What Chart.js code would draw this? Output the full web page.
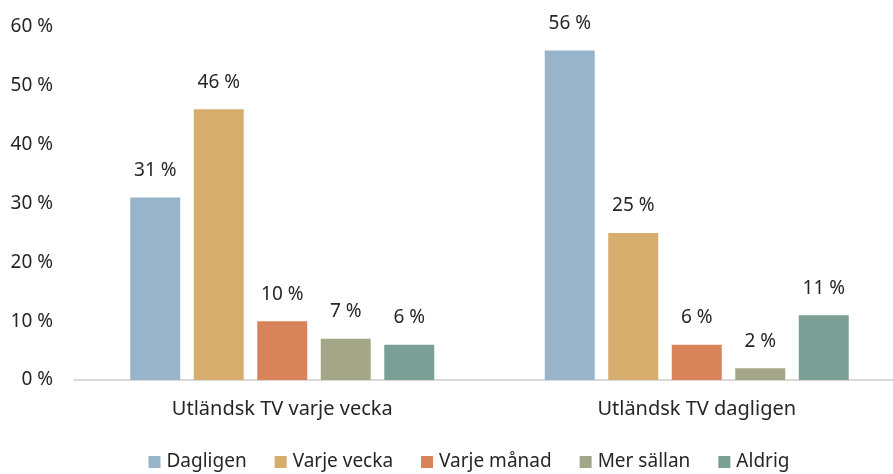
<!DOCTYPE html>
<html>
<head>
<meta charset="utf-8">
<script src="https://cdn.jsdelivr.net/npm/chart.js@4"></script>
<style>
  html, body { margin: 0; padding: 0; background: #fff; overflow: hidden; }
  #wrap { width: 904px; height: 474px; position: relative; }
</style>
</head>
<body>
<div id="wrap"><canvas id="c"></canvas></div>
<script>
const categories = ['Utländsk TV varje vecka', 'Utländsk TV dagligen'];
const seriesNames = ['Dagligen', 'Varje vecka', 'Varje månad', 'Mer sällan', 'Aldrig'];
const dagligen = [31, 56];
const varjeVecka = [46, 25];
const varjeManad = [10, 6];
const merSallan = [7, 2];
const aldrig = [6, 11];
const yTicks = [0, 10, 20, 30, 40, 50, 60];
const colors = ['#98B4CB', '#D6AD6D', '#D9835A', '#A4A787', '#7AA096'];

const FONT = '"Noto Sans", "Open Sans", sans-serif';
const TEXT = '#262626';

// value labels above each bar
const valueLabels = {
  id: 'valueLabels',
  afterDatasetsDraw(chart) {
    const ctx = chart.ctx;
    ctx.save();
    ctx.font = '19px ' + FONT;
    ctx.fillStyle = TEXT;
    ctx.textAlign = 'center';
    ctx.textBaseline = 'middle';
    chart.data.datasets.forEach((ds, i) => {
      chart.getDatasetMeta(i).data.forEach((bar, j) => {
        ctx.fillText(ds.data[j] + ' %', bar.x, bar.y - 27);
      });
    });
    ctx.restore();
  }
};

// legend row along the bottom: square swatch + series name
const bottomLegend = {
  id: 'bottomLegend',
  afterDraw(chart) {
    const ctx = chart.ctx;
    const box = 12, gapText = 6, gapItem = 28;
    ctx.save();
    ctx.font = '19px ' + FONT;
    ctx.textBaseline = 'middle';
    ctx.textAlign = 'left';
    const items = chart.data.datasets.map(ds => ({
      text: ds.label, color: ds.backgroundColor, w: ctx.measureText(ds.label).width
    }));
    const total = items.reduce((s, it) => s + box + gapText + it.w, 0) + gapItem * (items.length - 1);
    let x = 469 - total / 2;
    const y = chart.height - 12;
    items.forEach(it => {
      ctx.fillStyle = it.color;
      ctx.fillRect(x, y - box / 2, box, box);
      x += box + gapText;
      ctx.fillStyle = TEXT;
      ctx.fillText(it.text, x, y);
      x += it.w + gapItem;
    });
    ctx.restore();
  }
};

const seriesData = [dagligen, varjeVecka, varjeManad, merSallan, aldrig];

new Chart(document.getElementById('c'), {
  type: 'bar',
  data: {
    labels: categories,
    datasets: seriesNames.map((name, i) => ({
      label: name,
      data: seriesData[i],
      backgroundColor: colors[i],
      borderWidth: 0,
      categoryPercentage: 0.766,
      barPercentage: 0.787
    }))
  },
  options: {
    responsive: true,
    maintainAspectRatio: false,
    animation: false,
    layout: { padding: { top: 27, left: 8, right: 0, bottom: 51 } },
    plugins: {
      tooltip: { enabled: false },
      legend: { display: false }
    },
    scales: {
      x: {
        grid: { display: false, drawTicks: false },
        border: { display: true, color: '#D9D9D9', width: 2 },
        ticks: { font: { family: FONT, size: 20 }, color: TEXT, padding: 17 },
        afterFit(scale) {
          scale.height = 43;
          scale.paddingLeft = 0;
          scale.paddingRight = 0;
        }
      },
      y: {
        min: 0,
        max: 60,
        afterBuildTicks(scale) { scale.ticks = yTicks.map(v => ({ value: v })); },
        grid: { display: false, drawTicks: false },
        border: { display: false },
        ticks: {
          font: { family: FONT, size: 19 },
          color: TEXT,
          padding: 22,
          callback: v => v + ' %'
        },
        afterFit(scale) {
          scale.width = 67;
          scale.paddingTop = 0;
          scale.paddingBottom = 0;
        }
      }
    }
  },
  plugins: [valueLabels, bottomLegend]
});
</script>
</body>
</html>
